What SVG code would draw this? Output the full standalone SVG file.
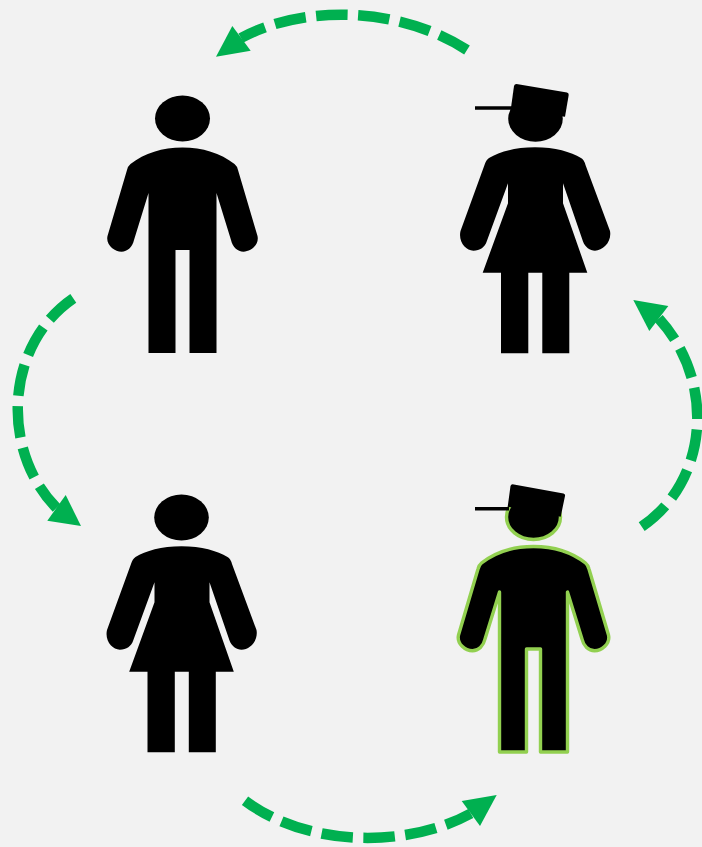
<svg xmlns="http://www.w3.org/2000/svg" xmlns:xlink="http://www.w3.org/1999/xlink" width="702" height="847" viewBox="0 0 702 847">
<style>
.ink{fill:#000}
.outlined{stroke:#92d050;stroke-width:3.4;stroke-linejoin:round}
.brim{stroke:#000;stroke-width:3.4;fill:none}
.shaft{fill:none;stroke:#00b050;stroke-width:10.500;stroke-dasharray:31.500 10.500}
.head{fill:#00b050}
</style>
<defs>
<path id="man" d="M0 147.500C20 147.500 38 153 52 164Q54.500 166 55.500 170L75 236C77 245 68 251.700 61 251.700C55 251.700 50 247 48.500 240L34 193V353H7V250H-7V353H-34V193L-48.500 240C-50 247-55 251.700-61 251.700C-68 251.700-77 245-75 236L-55.500 170Q-54.500 166-52 164C-38 153-20 147.500 0 147.500Z"/>
<path id="woman" d="M0 147.300C20 147.300 36 152 46 158Q49 159.500 50.500 165L75 231C77 242 68 250.700 60 250.700C55 250.700 50 247 48 241.500L28 183.300V203.300L52.300 272.700H34.300V353.300H7.300V272.700H-6.700V353.300H-34V272.700H-52.300L-27 203.300V183.300L-48.300 241.500C-50 247-55 250.700-61.700 250.700C-69 250.700-77 242-74.500 231L-50.500 165Q-49 160-46 158C-36 152-20 147.300 0 147.300Z"/>
</defs>
<rect width="702" height="847" fill="#f2f2f2"/>
<g id="person-top-left">
<ellipse class="ink" cx="182.500" cy="118.500" rx="27.500" ry="23"/>
<use xlink:href="#man" href="#man" class="ink" transform="translate(182.500 0)"/>
</g>
<g id="person-top-right">
<ellipse class="ink" cx="535.500" cy="118.700" rx="27.300" ry="23"/>
<path class="ink" d="M516.500 84 567 92.500Q569 93 568.700 95L565 116.700 510.700 110 514 86Q514.500 84 516.500 84Z"/>
<path class="brim" d="M475 108H512"/>
<use xlink:href="#woman" href="#woman" class="ink" transform="translate(535 0)"/>
</g>
<g id="person-bottom-left">
<ellipse class="ink" cx="181.500" cy="517.500" rx="27.300" ry="23"/>
<use xlink:href="#woman" href="#woman" class="ink" transform="translate(181.500 399)"/>
</g>
<g id="person-bottom-right">
<ellipse class="ink outlined" cx="533.500" cy="517" rx="27" ry="22.500"/>
<use xlink:href="#man" href="#man" class="ink outlined" transform="translate(533.500 399)"/>
<path class="ink" d="M512.500 484.300 563.500 493.500Q565.500 494 565 496L560.700 516.700 507.700 506.700 510.500 486Q511 484.300 512.500 484.300Z"/>
<path class="brim" d="M475 508.700H509"/>
</g>
<g id="connectors">
<path class="shaft" d="M467 50C395 4 300 6 241 38"/>
<polygon class="head" points="216,56.700 232.300,26 250.700,50.700"/>
<path class="shaft" d="M73.300 298.300C5 345 0 450 56.500 508"/>
<polygon class="head" points="81,526 65.700,495 47.300,520.700"/>
<path class="shaft" d="M641.700 526.700C710 480 715 380 658.800 318.500"/>
<polygon class="head" points="633.300,300 668.300,306 649.300,331"/>
<path class="shaft" d="M245 800.700C310 849 410 847 470.800 813.500"/>
<polygon class="head" points="496.700,795 461.700,801 480,826"/>
</g>
</svg>
